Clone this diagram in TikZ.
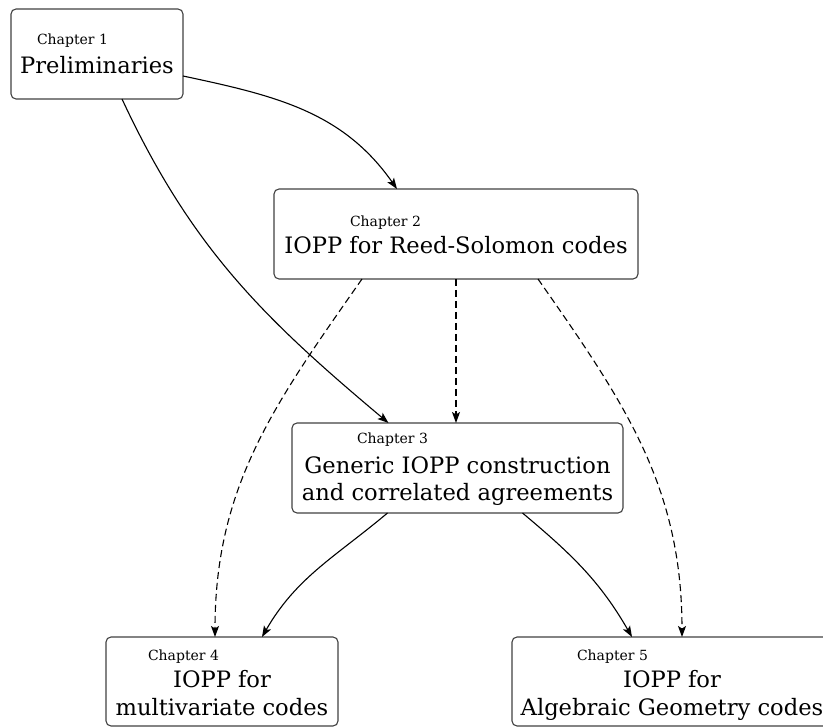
\documentclass[tikz,border=0pt]{standalone}
\usepackage{fontspec}
\setmainfont{DejaVu Serif}
\usetikzlibrary{arrows.meta}
\begin{document}
\begin{tikzpicture}[x=1pt,y=-1pt,
  every node/.style={inner sep=0,outer sep=0},
  box/.style={draw=black!75,line width=1.1pt,rounded corners=5pt},
  chap/.style={anchor=base west,font=\fontsize{14}{17}\selectfont},
  title/.style={align=center,font=\fontsize{22.6}{27.5}\selectfont},
  arr/.style={line width=1.1pt,-{Stealth[length=11pt,width=8pt,inset=2.5pt]}},
  darr/.style={arr,dash pattern=on 7pt off 4pt}]
  \useasboundingbox (0,0) rectangle (823,727);
  \clip (0,0) rectangle (823,727);
  %% Boxes.
  \node[box,minimum width=172pt,minimum height=90pt] (B1) at (97,54) {};
  \node[box,minimum width=364pt,minimum height=90pt] (B2) at (456,234) {};
  \node[box,minimum width=331pt,minimum height=90pt] (B3) at (457.5,468) {};
  \node[box,minimum width=232pt,minimum height=89pt] (B4) at (222,681.5) {};
  \node[box,minimum width=320pt,minimum height=89pt] (B5) at (672,681.5) {};
  %% Chapter numbers.
  \node[chap] (L1) at (37,45) {Chapter 1};
  \node[chap] (L2) at (350,227) {Chapter 2};
  \node[chap] (L3) at (357,444) {Chapter 3};
  \node[chap] (L4) at (148,660) {Chapter 4};
  \node[chap] (L5) at (577,660) {Chapter 5};
  %% Titles (base is the last line).
  \node[title,anchor=base] (T1) at (97,74) {Preliminaries};
  \node[title,anchor=base] (T2) at (456,254) {IOPP for Reed-Solomon codes};
  \node[title,anchor=base] (T3) at (457.5,501) {Generic IOPP construction\\and correlated agreements};
  \node[title,anchor=base] (T4) at (222,715) {IOPP for\\multivariate codes};
  \node[title,anchor=base] (T5) at (672,715) {IOPP for\\Algebraic Geometry codes};

  \draw[arr] ([yshift=-22pt]B1.east) to [out=-12,in=125] ([xshift=-59pt]B2.north);
  \draw[arr] ([xshift=25pt]B1.south) to [out=-65,in=140] ([xshift=-69pt]B3.north);

  \draw[darr] (B2.south) -- (B2.south |- B3.north);
  \draw[darr] ([xshift=-94pt]B2.south) to [out=-125,in=90] ([xshift=-7pt]B4.north);
  \draw[darr] ([xshift=82pt]B2.south) to [out=-55,in=90] ([xshift=10pt]B5.north);

  \draw[arr] ([xshift=-70pt]B3.south) to [out=-140,in=60] ([xshift=40pt]B4.north);
  \draw[arr] ([xshift=65pt]B3.south) to [out=-40,in=120] ([xshift=-40pt]B5.north);
\end{tikzpicture}
\end{document}
